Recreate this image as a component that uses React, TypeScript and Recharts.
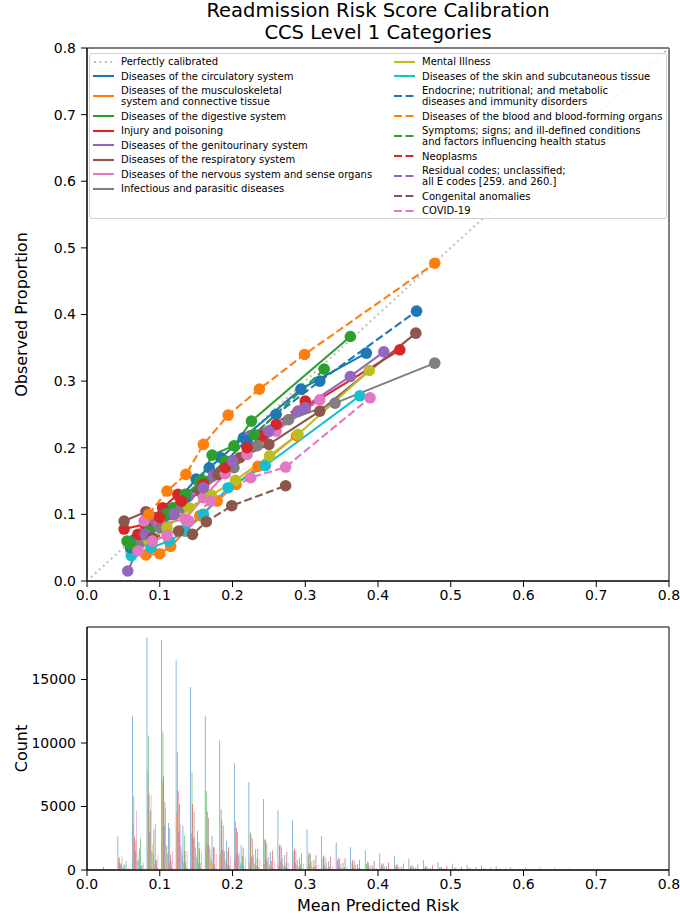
import { LineChart, Line, XAxis, YAxis, BarChart, Bar, ReferenceArea } from 'recharts'

const FONT = '"DejaVu Sans", Verdana, sans-serif'

// calibration points (mean predicted risk, observed proportion)
const circX = [0.065, 0.088, 0.108, 0.128, 0.15, 0.168, 0.184, 0.215, 0.294, 0.384]
const circY = [0.062, 0.08, 0.1, 0.125, 0.153, 0.17, 0.185, 0.215, 0.288, 0.342]
const muscX = [0.081, 0.1, 0.115, 0.135, 0.155, 0.179, 0.205, 0.235, 0.288]
const muscY = [0.039, 0.041, 0.052, 0.075, 0.098, 0.12, 0.145, 0.172, 0.218]
const digX = [0.055, 0.078, 0.098, 0.118, 0.138, 0.155, 0.172, 0.202, 0.226, 0.362]
const digY = [0.06, 0.07, 0.09, 0.11, 0.13, 0.15, 0.189, 0.203, 0.24, 0.367]
const injX = [0.051, 0.08, 0.104, 0.125, 0.158, 0.18, 0.2, 0.241, 0.3, 0.43]
const injY = [0.078, 0.085, 0.11, 0.13, 0.14, 0.16, 0.18, 0.218, 0.26, 0.347]
const genX = [0.056, 0.075, 0.095, 0.115, 0.139, 0.174, 0.224, 0.29, 0.362, 0.408]
const genY = [0.015, 0.06, 0.088, 0.1, 0.127, 0.159, 0.218, 0.255, 0.307, 0.344]
const respX = [0.051, 0.081, 0.106, 0.13, 0.155, 0.18, 0.21, 0.25, 0.32, 0.452]
const respY = [0.09, 0.104, 0.1, 0.115, 0.135, 0.16, 0.185, 0.205, 0.255, 0.372]
const nervX = [0.06, 0.0785, 0.1, 0.135, 0.16, 0.19, 0.22, 0.26, 0.32]
const nervY = [0.05, 0.09, 0.085, 0.093, 0.125, 0.161, 0.19, 0.225, 0.272]
const infX = [0.07, 0.1, 0.13, 0.16, 0.202, 0.234, 0.277, 0.341, 0.478]
const infY = [0.06, 0.08, 0.11, 0.14, 0.17, 0.203, 0.242, 0.267, 0.327]
const mentX = [0.06, 0.085, 0.11, 0.14, 0.171, 0.204, 0.251, 0.29, 0.388]
const mentY = [0.045, 0.06, 0.08, 0.11, 0.129, 0.151, 0.188, 0.22, 0.316]
const skinX = [0.061, 0.088, 0.113, 0.135, 0.16, 0.194, 0.245, 0.375]
const skinY = [0.038, 0.05, 0.06, 0.075, 0.1, 0.14, 0.173, 0.278]
const endoX = [0.06, 0.085, 0.11, 0.135, 0.16, 0.19, 0.22, 0.26, 0.32, 0.453]
const endoY = [0.05, 0.07, 0.1, 0.125, 0.15, 0.18, 0.21, 0.25, 0.3, 0.405]
const bloodX = [0.085, 0.11, 0.136, 0.16, 0.194, 0.237, 0.299, 0.478]
const bloodY = [0.1, 0.135, 0.16, 0.205, 0.249, 0.288, 0.34, 0.477]
const sympX = [0.06, 0.085, 0.11, 0.135, 0.16, 0.19, 0.23, 0.326]
const sympY = [0.055, 0.075, 0.1, 0.13, 0.15, 0.18, 0.22, 0.318]
const neoX = [0.07, 0.1, 0.13, 0.16, 0.19, 0.22, 0.26, 0.3]
const neoY = [0.07, 0.095, 0.12, 0.145, 0.17, 0.2, 0.235, 0.27]
const resX = [0.08, 0.12, 0.16, 0.2, 0.25, 0.3]
const resY = [0.07, 0.1, 0.14, 0.18, 0.225, 0.26]
const congX = [0.09, 0.126, 0.145, 0.164, 0.199, 0.273]
const congY = [0.065, 0.075, 0.07, 0.089, 0.113, 0.143]
const covX = [0.07, 0.09, 0.11, 0.14, 0.17, 0.225, 0.273, 0.389]
const covY = [0.045, 0.06, 0.068, 0.09, 0.12, 0.155, 0.171, 0.275]

// histogram bins (left edges, width 0.02) and counts per category
const binStarts = [
  0, 0.02, 0.04, 0.06, 0.08, 0.1, 0.12, 0.14, 0.16, 0.18, 0.2, 0.22, 0.24, 0.26, 0.28, 0.3, 0.32, 0.34, 0.36, 0.38,
  0.4, 0.42, 0.44, 0.46, 0.48, 0.5, 0.52, 0.54, 0.56, 0.58, 0.6, 0.62, 0.64, 0.66, 0.68, 0.7, 0.72, 0.74, 0.76, 0.78,
]
const circCounts = [0, 250, 2640, 12170, 18300, 18100, 16500, 14400, 12100, 10200, 8400, 6900, 5600, 4700, 3900, 3200, 2650, 2170, 1800, 1530, 1320, 1100, 900, 760, 620, 500, 420, 350, 290, 240, 200, 170, 140, 110, 90, 70, 50, 30, 20, 10]
const muscCounts = [0, 80, 900, 3700, 7800, 6900, 4500, 2900, 1900, 1300, 900, 650, 480, 350, 260, 200, 150, 110, 85, 65, 50, 38, 28, 20, 15, 11, 8, 6, 4, 3, 2, 1, 1, 0, 0, 0, 0, 0, 0, 0]
const digCounts = [0, 60, 1000, 5800, 10600, 10900, 9300, 7700, 6200, 4800, 3800, 3000, 2400, 1900, 1500, 1200, 950, 750, 600, 480, 380, 300, 240, 190, 150, 120, 95, 75, 60, 48, 38, 30, 24, 18, 14, 10, 8, 5, 3, 2]
const injCounts = [0, 40, 600, 2600, 6000, 7400, 6200, 5200, 4600, 3900, 3300, 2800, 2400, 2000, 1700, 1400, 1150, 950, 800, 660, 540, 440, 360, 290, 230, 180, 140, 110, 85, 66, 50, 40, 30, 22, 16, 12, 8, 5, 3, 2]
const genCounts = [0, 30, 400, 1500, 3000, 3500, 3000, 2500, 2000, 1600, 1300, 1050, 850, 700, 560, 450, 360, 290, 230, 185, 150, 120, 95, 75, 60, 48, 38, 30, 24, 18, 14, 10, 8, 6, 4, 3, 2, 1, 1, 0]
const respCounts = [0, 30, 500, 2300, 4700, 5400, 5200, 4600, 4100, 3500, 3000, 2500, 2100, 1800, 1500, 1250, 1050, 880, 730, 600, 500, 410, 340, 280, 230, 185, 150, 120, 95, 75, 60, 46, 35, 26, 19, 14, 10, 6, 4, 2]
const nervCounts = [0, 50, 1100, 4700, 5900, 4900, 3600, 2600, 1900, 1450, 1100, 850, 650, 500, 390, 300, 230, 180, 140, 110, 85, 65, 50, 38, 28, 21, 15, 11, 8, 6, 4, 3, 2, 1, 1, 0, 0, 0, 0, 0]
const infCounts = [0, 10, 150, 700, 1500, 1900, 1900, 1800, 1650, 1500, 1350, 1200, 1050, 920, 800, 690, 590, 500, 420, 350, 290, 240, 195, 160, 130, 105, 85, 68, 54, 43, 34, 27, 21, 16, 12, 9, 6, 4, 2, 1]
const mentCounts = [0, 20, 350, 1300, 2000, 1900, 1600, 1300, 1050, 850, 680, 540, 430, 340, 270, 210, 165, 130, 100, 78, 60, 46, 35, 26, 19, 14, 10, 7, 5, 3, 2, 1, 1, 0, 0, 0, 0, 0, 0, 0]
const skinCounts = [0, 15, 200, 800, 1300, 1300, 1150, 950, 800, 650, 530, 430, 350, 280, 225, 180, 140, 110, 86, 67, 52, 40, 30, 23, 17, 13, 9, 7, 5, 3, 2, 1, 1, 0, 0, 0, 0, 0, 0, 0]
const endoCounts = [0, 30, 450, 1700, 3200, 3700, 3500, 3100, 2700, 2300, 1950, 1650, 1400, 1180, 990, 830, 690, 570, 470, 385, 315, 255, 205, 165, 130, 105, 82, 64, 50, 39, 30, 23, 17, 13, 9, 6, 4, 3, 2, 1]
const bloodCounts = [0, 5, 60, 250, 500, 600, 600, 560, 510, 460, 410, 360, 320, 280, 245, 210, 180, 155, 130, 110, 92, 76, 62, 50, 40, 32, 25, 19, 15, 11, 8, 6, 4, 3, 2, 1, 1, 0, 0, 0]
const sympCounts = [0, 40, 700, 2500, 3600, 3300, 2700, 2200, 1800, 1450, 1150, 900, 710, 560, 440, 340, 265, 205, 158, 122, 94, 72, 55, 42, 32, 24, 18, 13, 10, 7, 5, 4, 3, 2, 1, 1, 0, 0, 0, 0]
const neoCounts = [0, 5, 80, 350, 800, 1200, 1500, 1700, 1800, 1800, 1750, 1650, 1550, 1420, 1300, 1170, 1040, 920, 810, 710, 610, 520, 440, 370, 310, 255, 210, 170, 135, 105, 82, 63, 48, 36, 27, 20, 14, 10, 7, 4]
const resCounts = [0, 10, 100, 400, 700, 750, 650, 550, 450, 360, 290, 230, 180, 140, 110, 85, 65, 50, 38, 29, 22, 16, 12, 9, 6, 4, 3, 2, 1, 1, 0, 0, 0, 0, 0, 0, 0, 0, 0, 0]
const congCounts = [0, 2, 20, 80, 150, 170, 160, 140, 120, 100, 80, 64, 50, 38, 29, 22, 16, 12, 9, 6, 4, 3, 2, 1, 1, 0, 0, 0, 0, 0, 0, 0, 0, 0, 0, 0, 0, 0, 0, 0]
const covCounts = [0, 10, 150, 600, 1200, 1500, 1500, 1400, 1250, 1100, 950, 820, 700, 590, 490, 400, 330, 270, 215, 170, 135, 105, 80, 60, 45, 33, 24, 17, 12, 8, 6, 4, 3, 2, 1, 1, 0, 0, 0, 0]

const axisTicks = [0, 0.1, 0.2, 0.3, 0.4, 0.5, 0.6, 0.7, 0.8]
const countTicks = [0, 5000, 10000, 15000]

const series = [
  { key: 'circ', name: 'Diseases of the circulatory system', color: '#1f77b4', dashed: false, xs: circX, ys: circY, counts: circCounts },
  { key: 'musc', name: 'Diseases of the musculoskeletal\nsystem and connective tissue', color: '#ff7f0e', dashed: false, xs: muscX, ys: muscY, counts: muscCounts },
  { key: 'dig', name: 'Diseases of the digestive system', color: '#2ca02c', dashed: false, xs: digX, ys: digY, counts: digCounts },
  { key: 'inj', name: 'Injury and poisoning', color: '#d62728', dashed: false, xs: injX, ys: injY, counts: injCounts },
  { key: 'gen', name: 'Diseases of the genitourinary system', color: '#9467bd', dashed: false, xs: genX, ys: genY, counts: genCounts },
  { key: 'resp', name: 'Diseases of the respiratory system', color: '#8c564b', dashed: false, xs: respX, ys: respY, counts: respCounts },
  { key: 'nerv', name: 'Diseases of the nervous system and sense organs', color: '#e377c2', dashed: false, xs: nervX, ys: nervY, counts: nervCounts },
  { key: 'inf', name: 'Infectious and parasitic diseases', color: '#7f7f7f', dashed: false, xs: infX, ys: infY, counts: infCounts },
  { key: 'ment', name: 'Mental Illness', color: '#bcbd22', dashed: false, xs: mentX, ys: mentY, counts: mentCounts },
  { key: 'skin', name: 'Diseases of the skin and subcutaneous tissue', color: '#17becf', dashed: false, xs: skinX, ys: skinY, counts: skinCounts },
  { key: 'endo', name: 'Endocrine; nutritional; and metabolic\ndiseases and immunity disorders', color: '#1f77b4', dashed: true, xs: endoX, ys: endoY, counts: endoCounts },
  { key: 'blood', name: 'Diseases of the blood and blood-forming organs', color: '#ff7f0e', dashed: true, xs: bloodX, ys: bloodY, counts: bloodCounts },
  { key: 'symp', name: 'Symptoms; signs; and ill-defined conditions\nand factors influencing health status', color: '#2ca02c', dashed: true, xs: sympX, ys: sympY, counts: sympCounts },
  { key: 'neo', name: 'Neoplasms', color: '#d62728', dashed: true, xs: neoX, ys: neoY, counts: neoCounts },
  { key: 'res', name: 'Residual codes; unclassified;\nall E codes [259. and 260.]', color: '#9467bd', dashed: true, xs: resX, ys: resY, counts: resCounts },
  { key: 'cong', name: 'Congenital anomalies', color: '#8c564b', dashed: true, xs: congX, ys: congY, counts: congCounts },
  { key: 'cov', name: 'COVID-19', color: '#e377c2', dashed: true, xs: covX, ys: covY, counts: covCounts },
]

const diagonal = [{ x: 0, y: 0 }, { x: 0.8, y: 0.8 }]
const histData = binStarts.map((b, i) => {
  const row: Record<string, number> = { x: b + 0.01 }
  series.forEach((s) => (row[s.key] = s.counts[i]))
  return row
})

const tickStyle = { fontSize: 14, fill: '#000', fontFamily: FONT }
const DASH = '8 3.5'
const DOTS = '2 3.4'

function VLabel({ viewBox, text }: any) {
  const cy = viewBox.y + viewBox.height / 2
  return (
    <text x={21} y={cy} transform={`rotate(-90, 21, ${cy})`} textAnchor="middle" dominantBaseline="central"
      style={{ fontSize: 16, fontFamily: FONT, fill: '#000' }}>
      {text}
    </text>
  )
}

function LegendHandle({ color, dash }: { color: string; dash?: string }) {
  return (
    <svg width={21} height={6} style={{ position: 'absolute', left: 0, top: '50%', marginTop: -3 }}>
      <line x1={dash === DOTS ? 1 : 0} y1={3} x2={21} y2={3} stroke={color} strokeWidth={2.1} strokeDasharray={dash} />
    </svg>
  )
}

function LegendItem({ color, dash, label }: { color: string; dash?: string; label: string }) {
  return (
    <div style={{ position: 'relative', paddingLeft: 28, whiteSpace: 'pre', lineHeight: '11px' }}>
      <LegendHandle color={color} dash={dash} />
      {label}
    </div>
  )
}

function CalibLegend() {
  const left = series.slice(0, 8)
  const right = series.slice(8)
  const col = { display: 'flex', flexDirection: 'column' as const, gap: 3.5 }
  return (
    <div style={{
      position: 'absolute', left: 89, top: 53, width: 576, height: 164,
      background: 'rgba(255,255,255,0.8)', border: '1px solid #d0d0d0', borderRadius: 3,
      fontFamily: FONT, fontSize: 10, color: '#000',
    }}>
      <div style={{ ...col, position: 'absolute', left: 3, top: 2 }}>
        <LegendItem color="#c0c0c0" dash={DOTS} label="Perfectly calibrated" />
        {left.map((s) => <LegendItem key={s.key} color={s.color} dash={s.dashed ? DASH : undefined} label={s.name} />)}
      </div>
      <div style={{ ...col, position: 'absolute', left: 304, top: 2 }}>
        {right.map((s) => <LegendItem key={s.key} color={s.color} dash={s.dashed ? DASH : undefined} label={s.name} />)}
      </div>
    </div>
  )
}

export default function App() {
  return (
    <div style={{ position: 'absolute', left: 0, top: 0, width: 680, height: 919, background: '#fff', fontFamily: FONT }}>
      <div style={{ position: 'absolute', left: 78, top: 0, width: 600, textAlign: 'center', fontSize: 19.5, lineHeight: '21.6px', color: '#000' }}>
        Readmission Risk Score Calibration<br />CCS Level 1 Categories
      </div>

      <div style={{ position: 'absolute', left: 0, top: 0 }}>
        <LineChart width={680} height={612} margin={{ top: 48, right: 11, bottom: 0, left: 0 }}>
          <XAxis type="number" dataKey="x" domain={[0, 0.8]} ticks={axisTicks} allowDataOverflow height={31}
            tick={tickStyle} tickSize={6} tickMargin={3} stroke="#000" tickFormatter={(v) => v.toFixed(1)} />
          <YAxis type="number" dataKey="y" domain={[0, 0.8]} ticks={axisTicks} allowDataOverflow width={87}
            tick={tickStyle} tickSize={6} tickMargin={5} stroke="#000" tickFormatter={(v) => v.toFixed(1)}
            label={<VLabel text="Observed Proportion" />} />
          <ReferenceArea x1={0} x2={0.8} y1={0} y2={0.8} fill="none" stroke="#000" strokeWidth={1} ifOverflow="visible" />
          <Line data={diagonal} dataKey="y" stroke="#c0c0c0" strokeWidth={2.1} strokeDasharray={DOTS} dot={false}
            isAnimationActive={false} />
          {series.map((s) => (
            <Line key={s.key} data={s.xs.map((x, i) => ({ x, y: s.ys[i] }))} dataKey="y" name={s.name}
              stroke={s.color} strokeWidth={2.1} strokeDasharray={s.dashed ? DASH : undefined}
              dot={{ r: 5.8, fill: s.color, stroke: 'none', strokeDasharray: '' }} activeDot={false}
              isAnimationActive={false} />
          ))}
        </LineChart>
      </div>

      <CalibLegend />

      <div style={{ position: 'absolute', left: 0, top: 612 }}>
        <BarChart width={680} height={307} data={histData} margin={{ top: 15, right: 11, bottom: 0, left: 0 }}
          barCategoryGap="10%" barGap={0}>
          <XAxis type="number" dataKey="x" domain={[0, 0.8]} ticks={axisTicks} allowDataOverflow height={49}
            tick={tickStyle} tickSize={6} tickMargin={3} stroke="#000" tickFormatter={(v) => v.toFixed(1)}
            label={{ value: 'Mean Predicted Risk', position: 'insideBottom', offset: 8, style: { fontSize: 16, fontFamily: FONT, fill: '#000' } }} />
          <YAxis type="number" domain={[0, 19134]} ticks={countTicks} allowDataOverflow width={87}
            tick={tickStyle} tickSize={6} tickMargin={5} stroke="#000" label={<VLabel text="Count" />} />
          <ReferenceArea x1={0} x2={0.8} y1={0} y2={19134} fill="none" stroke="#000" strokeWidth={1} ifOverflow="visible" />
          {series.map((s) => (
            <Bar key={s.key} dataKey={s.key} fill={s.color} fillOpacity={0.75} isAnimationActive={false} />
          ))}
        </BarChart>
      </div>
    </div>
  )
}
